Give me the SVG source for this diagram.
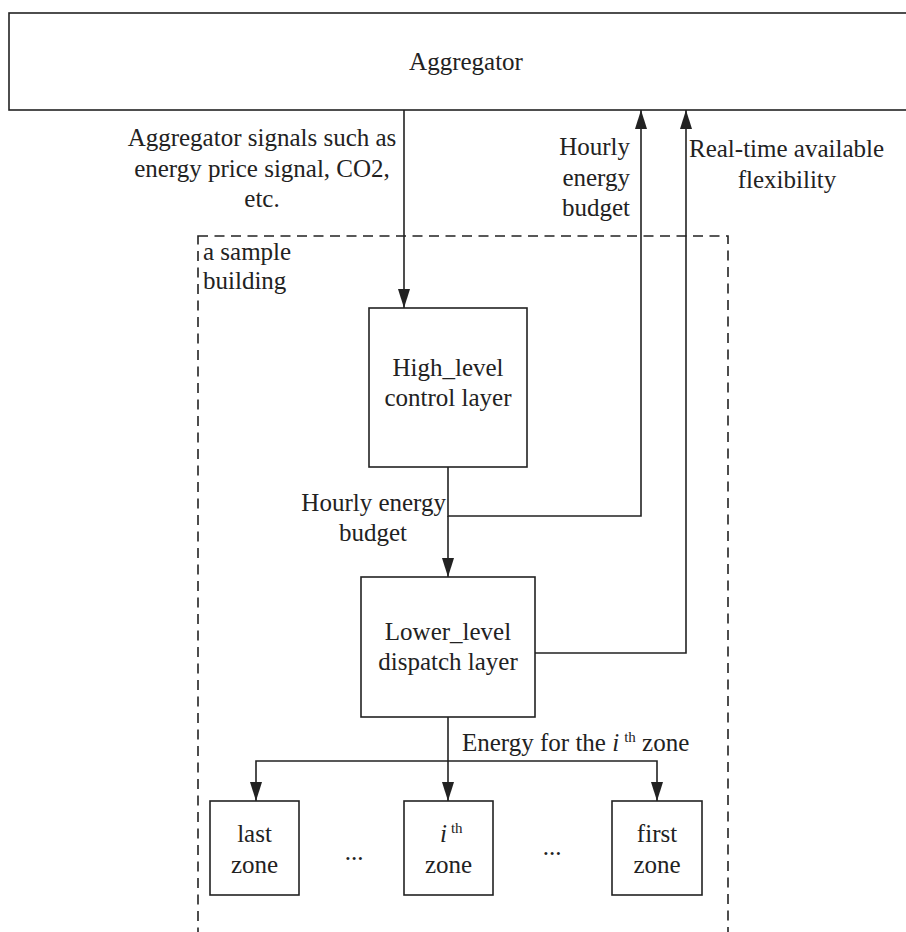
<svg xmlns="http://www.w3.org/2000/svg" width="906" height="932" viewBox="0 0 906 932">
<style>
.t{font:25px 'Liberation Serif',Tinos,'Times New Roman',serif;fill:#222}
.sup{font-size:15px}
.box{fill:#fff;stroke:#222;stroke-width:1.6}
.m{text-anchor:middle}
.e{text-anchor:end}
</style>
<defs>
<marker id="ah" markerWidth="19" markerHeight="12" refX="19" refY="6" orient="auto" markerUnits="userSpaceOnUse" viewBox="0 0 19 12">
<path d="M0,0 L19,6 L0,12 Z" fill="#222"/>
</marker>
</defs>
<rect width="906" height="932" fill="#fff"/>
<g id="building">
<rect x="198" y="236" width="530" height="720" fill="none" stroke="#222" stroke-width="1.6" stroke-dasharray="10 6.5"/>
<text class="t" x="203" y="260">a sample</text>
<text class="t" x="203" y="289">building</text>
</g>
<g id="aggregator">
<rect class="box" x="9" y="13" width="910" height="97"/>
<text class="t m" x="466" y="70">Aggregator</text>
</g>
<g id="high">
<rect class="box" x="369" y="308" width="158" height="159"/>
<text class="t m" x="448" y="376">High_level</text>
<text class="t m" x="448" y="406">control layer</text>
</g>
<g id="lower">
<rect class="box" x="361" y="577" width="174" height="140"/>
<text class="t m" x="448" y="640">Lower_level</text>
<text class="t m" x="448" y="670">dispatch layer</text>
</g>
<g id="zone-last">
<rect class="box" x="210" y="801" width="89" height="94"/>
<text class="t m" x="254.5" y="842">last</text>
<text class="t m" x="254.5" y="873">zone</text>
</g>
<g id="zone-i">
<rect class="box" x="404" y="801" width="89" height="94"/>
<text class="t" x="440" y="842"><tspan font-style="italic">i</tspan><tspan class="sup" dx="4" dy="-9">th</tspan></text>
<text class="t m" x="448.5" y="873">zone</text>
</g>
<g id="zone-first">
<rect class="box" x="612" y="801" width="90" height="94"/>
<text class="t m" x="657" y="842">first</text>
<text class="t m" x="657" y="873">zone</text>
</g>
<g id="ellipses">
<text class="t m" x="354" y="860">...</text>
<text class="t m" x="552" y="855">...</text>
</g>
<g id="connectors" fill="none" stroke="#222" stroke-width="1.6">
<line x1="404" y1="110" x2="404" y2="308" marker-end="url(#ah)"/>
<polyline points="448,467 448,516 641,516 641,110" marker-end="url(#ah)"/>
<line x1="448" y1="516" x2="448" y2="577" marker-end="url(#ah)"/>
<polyline points="535,653 686,653 686,110" marker-end="url(#ah)"/>
<line x1="448" y1="717" x2="448" y2="801" marker-end="url(#ah)"/>
<polyline points="448,761 256,761 256,801" marker-end="url(#ah)"/>
<polyline points="448,761 657,761 657,801" marker-end="url(#ah)"/>
</g>
<g id="labels">
<text class="t m" x="262" y="146">Aggregator signals such as</text>
<text class="t m" x="262" y="177">energy price signal, CO2,</text>
<text class="t m" x="262" y="207">etc.</text>
<text class="t e" x="630" y="155">Hourly</text>
<text class="t e" x="630" y="186">energy</text>
<text class="t e" x="630" y="216">budget</text>
<text class="t" x="689" y="157">Real-time available</text>
<text class="t m" x="787" y="188">flexibility</text>
<text class="t e" x="446" y="511">Hourly energy</text>
<text class="t m" x="373" y="541">budget</text>
<text class="t" x="462" y="751">Energy for the <tspan font-style="italic">i</tspan><tspan class="sup" dx="5" dy="-9">th</tspan><tspan dy="9"> zone</tspan></text>
</g>
</svg>
